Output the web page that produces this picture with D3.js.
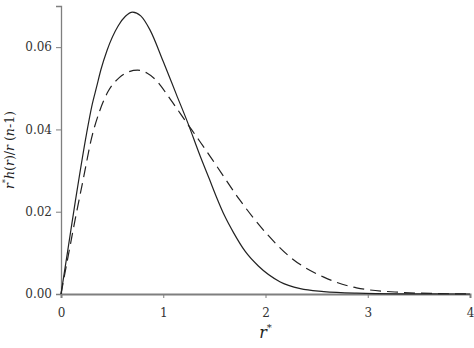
<!DOCTYPE html>
<html>
<head>
<meta charset="utf-8">
<script src="https://cdn.jsdelivr.net/npm/d3@7"></script>
<style>
  body { margin: 0; background: #fff; }
  svg { display: block; }
  .axis path, .axis line { stroke: #7f7f7f; }
  .axis text { fill: #333; font-size: 12px; }
</style>
</head>
<body>
<div id="chart"></div>
<script>
// values
const solidR = [0, 0.07, 0.14, 0.25, 0.30, 0.35, 0.39, 0.45, 0.56, 0.63, 0.70, 0.78, 0.87, 1.00, 1.13, 1.24, 1.36, 1.45, 1.52, 1.60, 1.69, 1.80, 1.93, 2.14, 2.34, 2.57, 2.89, 3.30, 4.00];
const solidV = [0, 0.0112, 0.0225, 0.0390, 0.0455, 0.0505, 0.0545, 0.0592, 0.0652, 0.0675, 0.0685, 0.0676, 0.0642, 0.0565, 0.0484, 0.0416, 0.0336, 0.0280, 0.0236, 0.0190, 0.0148, 0.0104, 0.0068, 0.0030, 0.0013, 0.0006, 0.0002, 0.00004, 0];

const dashR = [0, 0.07, 0.14, 0.22, 0.30, 0.38, 0.46, 0.57, 0.66, 0.75, 0.84, 0.92, 1.07, 1.23, 1.36, 1.52, 1.75, 2.01, 2.24, 2.57, 2.89, 3.32, 3.70, 4.00];
const dashV = [0, 0.0092, 0.0183, 0.0282, 0.0380, 0.0446, 0.0492, 0.0526, 0.0540, 0.0544, 0.0537, 0.0522, 0.0473, 0.0416, 0.0370, 0.0312, 0.0228, 0.0147, 0.0090, 0.0041, 0.0015, 0.0004, 0.0001, 0];

const xTicks = [0, 1, 2, 3, 4];
const yTicks = [0, 0.02, 0.04, 0.06];

const width = 474, height = 348;
const margin = { top: 6, right: 4, bottom: 54, left: 61 };
const serif = '"DejaVu Serif", serif';

const svg = d3.select("#chart").append("svg")
    .attr("width", width)
    .attr("height", height);

const x = d3.scaleLinear().domain([0, 4]).range([margin.left, width - margin.right]);
const y = d3.scaleLinear().domain([0, 0.07]).range([height - margin.bottom, margin.top]);

// Achsen
const xAxis = svg.append("g")
    .attr("class", "axis")
    .attr("transform", `translate(0,${height - margin.bottom})`)
    .call(d3.axisBottom(x).tickValues(xTicks).tickFormat(d3.format("d")).tickSize(4).tickPadding(10));
xAxis.select(".domain").attr("stroke-width", 2);

const yAxis = svg.append("g")
    .attr("class", "axis")
    .attr("transform", `translate(${margin.left},0)`)
    .call(d3.axisLeft(y).tickValues(yTicks).tickFormat(d3.format(".2f")).tickSize(5).tickPadding(4));
yAxis.select(".domain").attr("stroke-width", 1.3);

svg.selectAll(".axis").attr("font-family", serif);

const line = d3.line()
    .x(d => x(d[0]))
    .y(d => y(d[1]))
    .curve(d3.curveMonotoneX);

svg.append("path")
    .datum(solidR.map((r, i) => [r, solidV[i]]))
    .attr("fill", "none")
    .attr("stroke", "#222")
    .attr("stroke-width", 1.2)
    .attr("d", line);

svg.append("path")
    .datum(dashR.map((r, i) => [r, dashV[i]]))
    .attr("fill", "none")
    .attr("stroke", "#222")
    .attr("stroke-width", 1.2)
    .attr("stroke-dasharray", "11,6")
    .attr("d", line);

// Achsentitel
const xl = svg.append("text")
    .attr("x", (margin.left + width - margin.right) / 2)
    .attr("y", 338)
    .attr("text-anchor", "middle")
    .attr("font-family", serif)
    .style("font-size", "16px")
    .style("fill", "#222");
xl.append("tspan").style("font-style", "italic").text("r");
xl.append("tspan").attr("dy", -7).style("font-size", "10px").text("*");

const yl = svg.append("text")
    .attr("transform", `translate(14,${(margin.top + height - margin.bottom) / 2}) rotate(-90)`)
    .attr("text-anchor", "middle")
    .attr("font-family", serif)
    .style("font-size", "12.5px")
    .style("fill", "#222");
yl.append("tspan").style("font-style", "italic").text("r");
yl.append("tspan").attr("dy", -6).style("font-size", "8px").text("*");
yl.append("tspan").attr("dy", 6).style("font-style", "italic").text("h");
yl.append("tspan").text("(");
yl.append("tspan").style("font-style", "italic").text("r");
yl.append("tspan").text(")/");
yl.append("tspan").style("font-style", "italic").text("r");
yl.append("tspan").text(" (");
yl.append("tspan").style("font-style", "italic").text("n");
yl.append("tspan").text("-1)");
</script>
</body>
</html>
